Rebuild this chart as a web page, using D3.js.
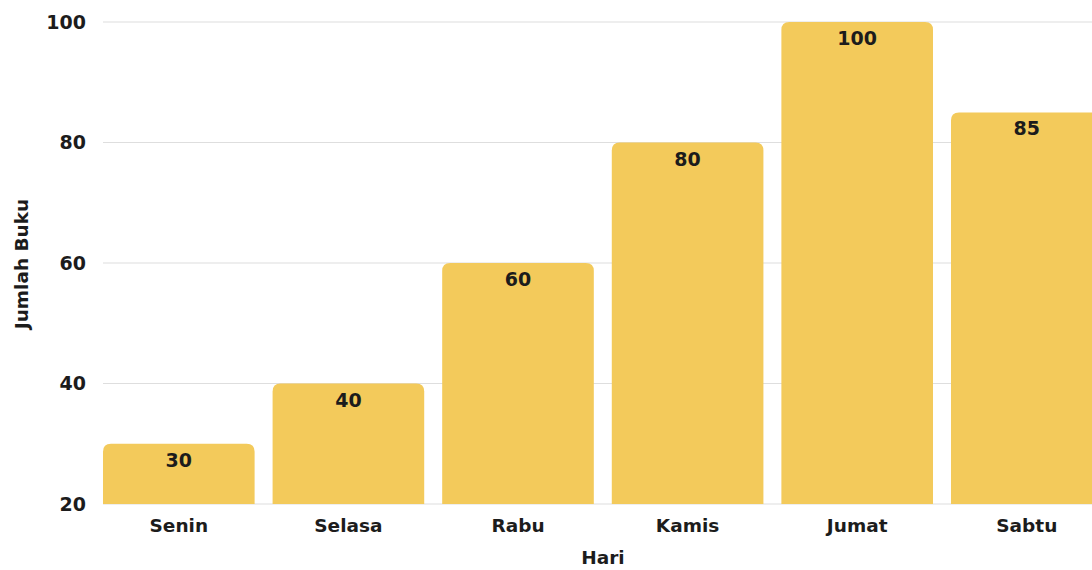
<!DOCTYPE html>
<html><head><meta charset="utf-8">
<script src="https://cdn.jsdelivr.net/npm/d3@7"></script>
<style>html,body{margin:0;padding:0;background:#fff;overflow:hidden}</style>
</head><body>
<svg id="c" width="1092" height="570"></svg>
<script>
const categories = ["Senin","Selasa","Rabu","Kamis","Jumat","Sabtu"];
const values = [30,40,60,80,100,85];
const yTicks = [20,40,60,80,100];
const xTitle = "Hari";
const yTitle = "Jumlah Buku";

const svg = d3.select("#c");
const font = "'DejaVu Sans', sans-serif";
const y = d3.scaleLinear().domain([20,100]).range([504,22]);
const x = d3.scaleBand().domain(categories).range([94,1111.6]).paddingInner(0.106).paddingOuter(0.053);

// gridlines
svg.append("g").selectAll("line").data(yTicks).join("line")
  .attr("x1",103).attr("x2",1092)
  .attr("y1",d=>y(d)).attr("y2",d=>y(d))
  .attr("stroke","#dedede").attr("stroke-width",1.2);

// y tick labels
svg.append("g").selectAll("text").data(yTicks).join("text")
  .attr("x",86).attr("y",d=>y(d)).attr("dy","0.36em")
  .attr("text-anchor","end").attr("font-family",font).attr("font-weight",700)
  .attr("font-size",19).attr("fill","#1c1c1c").text(d=>d);

// bars with rounded top corners
const r = 8;
function barPath(d,i){
  const x0 = x(categories[i]), w = x.bandwidth(), y0 = y(d), y1 = y(20);
  return `M${x0},${y1}V${y0+r}Q${x0},${y0} ${x0+r},${y0}H${x0+w-r}Q${x0+w},${y0} ${x0+w},${y0+r}V${y1}Z`;
}
svg.append("g").selectAll("path").data(values).join("path")
  .attr("d",barPath).attr("fill","#F3CA5B");

// value labels
svg.append("g").selectAll("text").data(values).join("text")
  .attr("x",(d,i)=>x(categories[i])+x.bandwidth()/2)
  .attr("y",d=>y(d)+23)
  .attr("text-anchor","middle").attr("font-family",font).attr("font-weight",700)
  .attr("font-size",19).attr("fill","#1c1c1c").text(d=>d);

// category labels
svg.append("g").selectAll("text").data(categories).join("text")
  .attr("x",d=>x(d)+x.bandwidth()/2).attr("y",532)
  .attr("text-anchor","middle").attr("font-family",font).attr("font-weight",700)
  .attr("font-size",18.5).attr("fill","#1c1c1c").text(d=>d);

// axis titles
svg.append("text").attr("x",603).attr("y",564).attr("text-anchor","middle")
  .attr("font-family",font).attr("font-weight",700).attr("font-size",18.5)
  .attr("fill","#1c1c1c").text(xTitle);
svg.append("text").attr("transform","translate(28,264) rotate(-90)")
  .attr("text-anchor","middle").attr("font-family",font).attr("font-weight",700)
  .attr("font-size",18.5).attr("fill","#1c1c1c").text(yTitle);
</script>
</body></html>
